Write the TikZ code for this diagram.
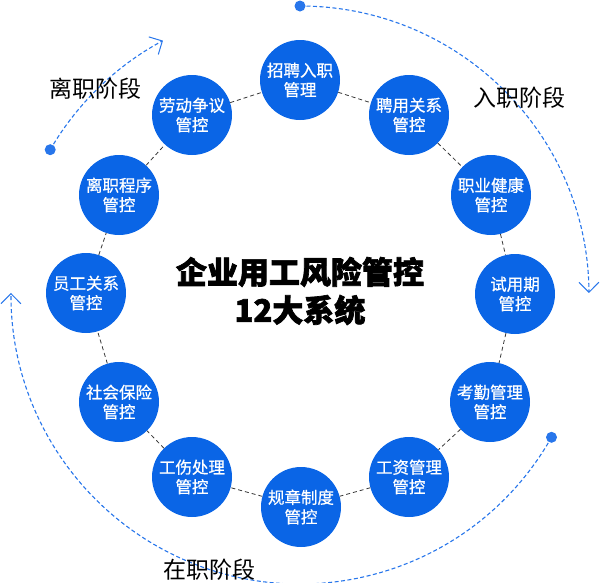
\documentclass[tikz,border=0pt]{standalone}
\usepackage{fontspec}
\newfontfamily\cjk{Noto Sans CJK SC}
\newfontfamily\cjkmed[FakeBold=0.7]{Noto Sans CJK SC}
\newfontfamily\cjkheavy[BoldFeatures={FakeBold=2.2}]{Noto Sans CJK SC}
\usetikzlibrary{arrows.meta}
\definecolor{nodeblue}{RGB}{10,101,230}
\definecolor{arcblue}{RGB}{40,118,235}
\definecolor{linegray}{RGB}{55,55,55}
\begin{document}
\begin{tikzpicture}[x=1pt,y=1pt,
  mgmt/.style={circle, fill=nodeblue, minimum size=80pt, inner sep=0pt, text=white,
    font=\cjkmed\fontsize{16.5}{19.5}\selectfont, align=center},
  ringline/.style={draw=linegray, line width=0.8pt, dash pattern=on 4pt off 3pt},
  stagearc/.style={draw=arcblue, line width=1.1pt, dash pattern=on 4pt off 2.5pt,
    -{Straight Barb[length=10pt,width=20pt,line width=1pt]}},
  startdot/.style={circle, fill=arcblue, minimum size=11pt, inner sep=0pt},
  stagelabel/.style={font=\cjk\fontsize{23}{23}\selectfont, text=black},
  maintitle/.style={font=\cjkheavy\bfseries\fontsize{31}{38}\selectfont, align=center}]
\useasboundingbox (0,0) rectangle (600,-582);

% ring nodes
\node[mgmt] (n1)  at (300,-80)  {招聘入职\\管理};
\node[mgmt] (n2)  at (409,-115) {聘用关系\\管控};
\node[mgmt] (n3)  at (491,-195) {职业健康\\管控};
\node[mgmt] (n4)  at (515,-294) {试用期\\管控};
\node[mgmt] (n5)  at (490,-402) {考勤管理\\管控};
\node[mgmt] (n6)  at (409,-477) {工资管理\\管控};
\node[mgmt] (n7)  at (301,-507) {规章制度\\管控};
\node[mgmt] (n8)  at (192,-477) {工伤处理\\管控};
\node[mgmt] (n9)  at (119,-402) {社会保险\\管控};
\node[mgmt] (n10) at (86,-293)  {员工关系\\管控};
\node[mgmt] (n11) at (119,-195) {离职程序\\管控};
\node[mgmt] (n12) at (192,-115) {劳动争议\\管控};

\foreach \a/\b in {n1/n2,n2/n3,n3/n4,n4/n5,n5/n6,n6/n7,n7/n8,n8/n9,n9/n10,n10/n11,n11/n12,n12/n1}
  \draw[ringline] (\a) -- (\b);

% title
\node[maintitle] (title) at (300,-291) {企业用工风险管控\\12大系统};

% stage arcs
\node[startdot] (d1) at (300,-6) {};
\node[startdot] (d2) at (551.5,-437.3) {};
\node[startdot] (d3) at (50.2,-149.7) {};
\draw[stagearc] (d1.center) arc[start angle=90, end angle=0.4, radius=289];
\draw[stagearc] (d2.center) arc[start angle=-29.5, end angle=-180.4, radius=289];
\draw[stagearc] (d3.center) arc[start angle=149.8, end angle=118.3, radius=289];

% stage labels
\node[stagelabel] (l1) at (519,-98) {入职阶段};
\node[stagelabel] (l2) at (209,-570) {在职阶段};
\node[stagelabel] (l3) at (95,-89) {离职阶段};
\end{tikzpicture}
\end{document}
